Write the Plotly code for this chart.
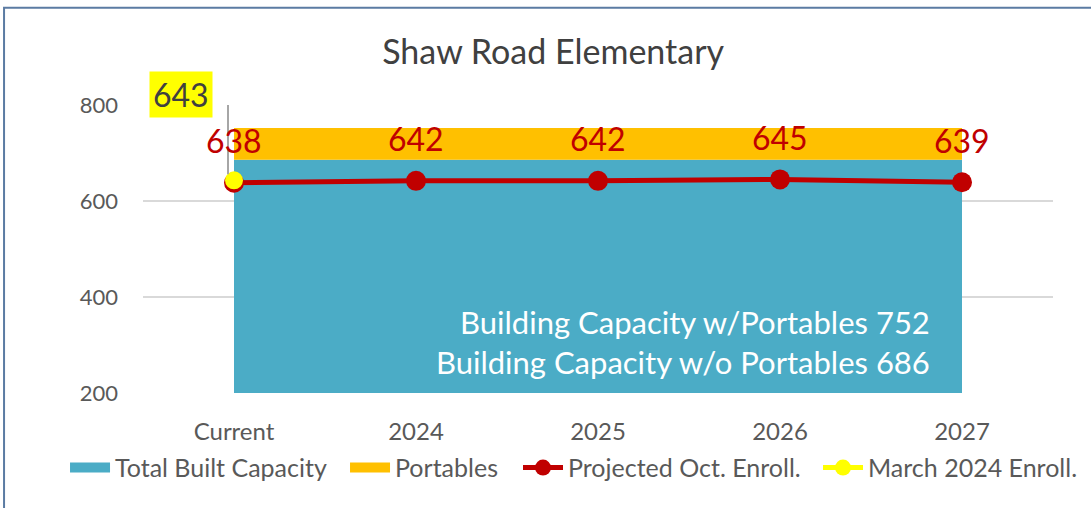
import plotly.graph_objects as go

categories = ["Current", "2024", "2025", "2026", "2027"]
built_capacity = [686, 686, 686, 686, 686]
portables = [66, 66, 66, 66, 66]
projected = [638, 642, 642, 645, 639]
march_cat = ["Current"]
march_val = [643]
y_ticks = [200, 400, 600, 800]

FONT = "Lato"
TEAL = "#4BACC6"
ORANGE = "#FFC000"
RED = "#C00000"
YELLOW = "#FFFF00"
GRAY = "#595959"

fig = go.Figure()
fig.add_trace(go.Scatter(x=categories, y=built_capacity, name="Total Built Capacity",
                         mode="none", stackgroup="cap", fillcolor=TEAL, showlegend=False))
fig.add_trace(go.Scatter(x=categories, y=portables, name="Portables",
                         mode="none", stackgroup="cap", fillcolor=ORANGE, showlegend=False))
# legend swatches for the areas
fig.add_trace(go.Scatter(x=[None], y=[None], name="Total Built Capacity", mode="lines",
                         line=dict(color=TEAL, width=15), legend="legend"))
fig.add_trace(go.Scatter(x=[None], y=[None], name="Portables", mode="lines",
                         line=dict(color=ORANGE, width=15), legend="legend"))
fig.add_trace(go.Scatter(x=categories, y=projected, name="Projected Oct. Enroll.",
                         mode="lines+markers", line=dict(color=RED, width=5),
                         marker=dict(color=RED, size=20), legend="legend2"))
fig.add_trace(go.Scatter(x=march_cat, y=march_val, name="March 2024 Enroll.",
                         mode="lines+markers", line=dict(color=YELLOW, width=5),
                         marker=dict(color=YELLOW, size=18), legend="legend2"))

for i, v in enumerate(projected):
    fig.add_annotation(x=i, y=v, text=str(v), showarrow=False, yshift=42,
                       font=dict(size=32, color=RED, family=FONT))

# callout for March value
mi = categories.index(march_cat[0])
fig.add_annotation(x=mi, y=march_val[0], text=str(march_val[0]),
                   showarrow=False, xshift=-53, yshift=86, bgcolor=YELLOW,
                   font=dict(size=32, color="#404040", family=FONT), borderpad=3)
fig.add_shape(type="path", xref="x", yref="y", xsizemode="pixel", ysizemode="pixel",
              xanchor=mi, yanchor=march_val[0],
              path="M -17,85 L -6,85 L -6,6", line=dict(color="#A6A6A6", width=2))

fig.add_annotation(x=1.0, y=0, xref="paper", yref="paper", xanchor="right", yanchor="bottom",
                   xshift=-121, yshift=10, showarrow=False, align="right",
                   text="Building Capacity w/Portables 752<br>Building Capacity w/o Portables 686",
                   font=dict(size=31, color="white", family=FONT))

# chart border
fig.add_shape(type="rect", xref="paper", yref="paper", x0=-0.1527, x1=1.2, y0=-0.5, y1=1.3375,
              line=dict(color="#5B7BA3", width=2), layer="above")

legend_common = dict(orientation="h", xref="container", yref="container",
                     xanchor="left", y=0.079, yanchor="middle",
                     font=dict(size=25, color=GRAY, family=FONT), itemwidth=40,
                     entrywidthmode="pixels",
                     traceorder="normal", tracegroupgap=0, bgcolor="rgba(0,0,0,0)")

fig.update_layout(
    width=1091, height=508,
    margin=dict(l=143, r=38, t=105, b=115, autoexpand=False),
    paper_bgcolor="white", plot_bgcolor="white",
    title=dict(text="Shaw Road Elementary", x=0.507, xanchor="center", y=0.897, yanchor="middle",
               font=dict(size=34, color="#404040", family=FONT)),
    font=dict(family=FONT, color=GRAY, size=20),
    showlegend=True,
    legend=dict(x=0.0596, entrywidth=225, **legend_common),
    legend2=dict(x=0.4748, entrywidth=245, **legend_common),
    xaxis=dict(type="category", range=[-0.5, 4.5], showgrid=False, showline=False,
               ticks="", tickfont=dict(size=24, color=GRAY), ticklabelstandoff=22,
               automargin=False),
    yaxis=dict(range=[200, 800], tickvals=y_ticks, showgrid=True, gridcolor="#D9D9D9",
               gridwidth=1.5, zeroline=False, showline=False, ticks="",
               tickfont=dict(size=22, color=GRAY), ticklabelstandoff=24, automargin=False),
)

fig.write_html("out.html", config={"displayModeBar": False},
               post_script="document.body.style.margin='0';")
